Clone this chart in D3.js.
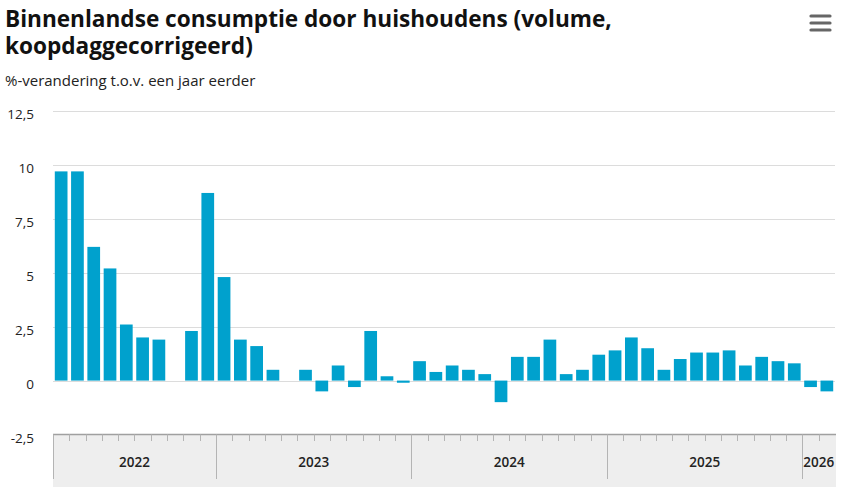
<!DOCTYPE html>
<html>
<head>
<meta charset="utf-8">
<script src="https://cdn.jsdelivr.net/npm/d3@7"></script>
<style>
    body { margin: 0; background: #fff; }
    svg { display: block; font-family: "Open Sans", "Noto Sans", sans-serif; }
</style>
</head>
<body>
<div id="container"></div>
<script>
const width = 858;
const height = 487;

// maanden, maart 2022 t/m februari 2026
const months = [
    "2022-03", "2022-04", "2022-05", "2022-06", "2022-07", "2022-08", "2022-09", "2022-10", "2022-11", "2022-12",
    "2023-01", "2023-02", "2023-03", "2023-04", "2023-05", "2023-06", "2023-07", "2023-08", "2023-09", "2023-10", "2023-11", "2023-12",
    "2024-01", "2024-02", "2024-03", "2024-04", "2024-05", "2024-06", "2024-07", "2024-08", "2024-09", "2024-10", "2024-11", "2024-12",
    "2025-01", "2025-02", "2025-03", "2025-04", "2025-05", "2025-06", "2025-07", "2025-08", "2025-09", "2025-10", "2025-11", "2025-12",
    "2026-01", "2026-02"
];

// %-verandering t.o.v. een jaar eerder (null = geen waarde)
const values = [
    9.7, 9.7, 6.2, 5.2, 2.6, 2.0, 1.9, null, 2.3, 8.7,
    4.8, 1.9, 1.6, 0.5, null, 0.5, -0.5, 0.7, -0.3, 2.3, 0.2, -0.1,
    0.9, 0.4, 0.7, 0.5, 0.3, -1.0, 1.1, 1.1, 1.9, 0.3, 0.5, 1.2,
    1.4, 2.0, 1.5, 0.5, 1.0, 1.3, 1.3, 1.4, 0.7, 1.1, 0.9, 0.8,
    -0.3, -0.5
];

const yTicks = [-2.5, 0, 2.5, 5, 7.5, 10, 12.5];
const years = ["2022", "2023", "2024", "2025", "2026"];
const titleLines = ["Binnenlandse consumptie door huishoudens (volume,", "koopdaggecorrigeerd)"];

const plot = { left: 53, right: 835, top: 111, bottom: 434.5 };

const svg = d3.select("#container")
    .append("svg")
    .attr("width", width)
    .attr("height", height);

// titel, twee regels
svg.append("g")
    .selectAll("text")
    .data(titleLines)
    .join("text")
    .attr("x", 5)
    .attr("y", (d, i) => 26.5 + i * 27)
    .attr("fill", "#111")
    .style("font-size", "22.6px")
    .style("font-weight", 700)
    .text(d => d);

svg.append("text")
    .attr("x", 5)
    .attr("y", 86)
    .attr("fill", "#222")
    .style("font-size", "15px")
    .text("%-verandering t.o.v. een jaar eerder");

// menu-icoon
[16, 23, 30].forEach(y => {
    svg.append("line")
        .attr("x1", 811).attr("x2", 830)
        .attr("y1", y).attr("y2", y)
        .attr("stroke", "#666")
        .attr("stroke-width", 3.2)
        .attr("stroke-linecap", "round");
});

const x = d3.scaleBand()
    .domain(months)
    .range([plot.left, plot.right])
    .paddingInner(0.22)
    .paddingOuter(0.11);

// grenzen tussen maanden
const xEdge = d3.scaleLinear()
    .domain([0, months.length])
    .range([plot.left, plot.right]);

const y = d3.scaleLinear()
    .domain([-2.5, 12.5])
    .range([plot.bottom, plot.top]);

// rasterlijnen
svg.append("g")
    .selectAll("line")
    .data(yTicks.filter(d => d > -2.5))
    .join("line")
    .attr("x1", plot.left)
    .attr("x2", plot.right)
    .attr("y1", d => Math.round(y(d)) + 0.5)
    .attr("y2", d => Math.round(y(d)) + 0.5)
    .attr("stroke", "#dcdcdc")
    .attr("stroke-width", 1);

// y-as labels
svg.append("g")
    .selectAll("text")
    .data(yTicks)
    .join("text")
    .attr("x", 34)
    .attr("y", d => y(d) + 4)
    .attr("dy", "0.32em")
    .attr("text-anchor", "end")
    .attr("fill", "#222")
    .style("font-size", "13.5px")
    .text(d => String(d).replace(".", ","));

// x-as band
const axisG = svg.append("g");

axisG.append("rect")
    .attr("x", plot.left)
    .attr("y", plot.bottom)
    .attr("width", plot.right + 1 - plot.left)
    .attr("height", height - plot.bottom)
    .attr("fill", "#eeeeee");

axisG.append("line")
    .attr("x1", plot.left)
    .attr("x2", plot.right + 1)
    .attr("y1", plot.bottom)
    .attr("y2", plot.bottom)
    .attr("stroke", "#a0a0a0")
    .attr("stroke-width", 1.5);

const edges = d3.range(0, months.length);
axisG.selectAll("line.tick")
    .data(edges)
    .join("line")
    .attr("class", "tick")
    .attr("x1", i => Math.round(xEdge(i)) + 0.5)
    .attr("x2", i => Math.round(xEdge(i)) + 0.5)
    .attr("y1", plot.bottom)
    .attr("y2", i => (i === 0 || months[i].endsWith("-01")) ? 479 : 441)
    .attr("stroke", "#b4b4b4")
    .attr("stroke-width", 1);

// jaarlabels in het midden van elk jaar
axisG.selectAll("text.year")
    .data(years)
    .join("text")
    .attr("class", "year")
    .attr("x", yr => {
        const idx = months.map((m, i) => m.startsWith(yr) ? i : -1).filter(i => i >= 0);
        return (xEdge(idx[0]) + xEdge(idx[idx.length - 1] + 1)) / 2;
    })
    .attr("y", 467)
    .attr("text-anchor", "middle")
    .attr("fill", "#222")
    .style("font-size", "13.5px")
    .style("font-weight", 600)
    .text(d => d);

// staven
svg.append("g")
    .selectAll("rect")
    .data(months.map((m, i) => ({ month: m, value: values[i] })).filter(d => d.value !== null))
    .join("rect")
    .attr("x", d => x(d.month))
    .attr("width", x.bandwidth())
    .attr("y", d => y(Math.max(0, d.value)))
    .attr("height", d => Math.abs(y(d.value) - y(0)))
    .attr("fill", "#00a1cd");
</script>
</body>
</html>
